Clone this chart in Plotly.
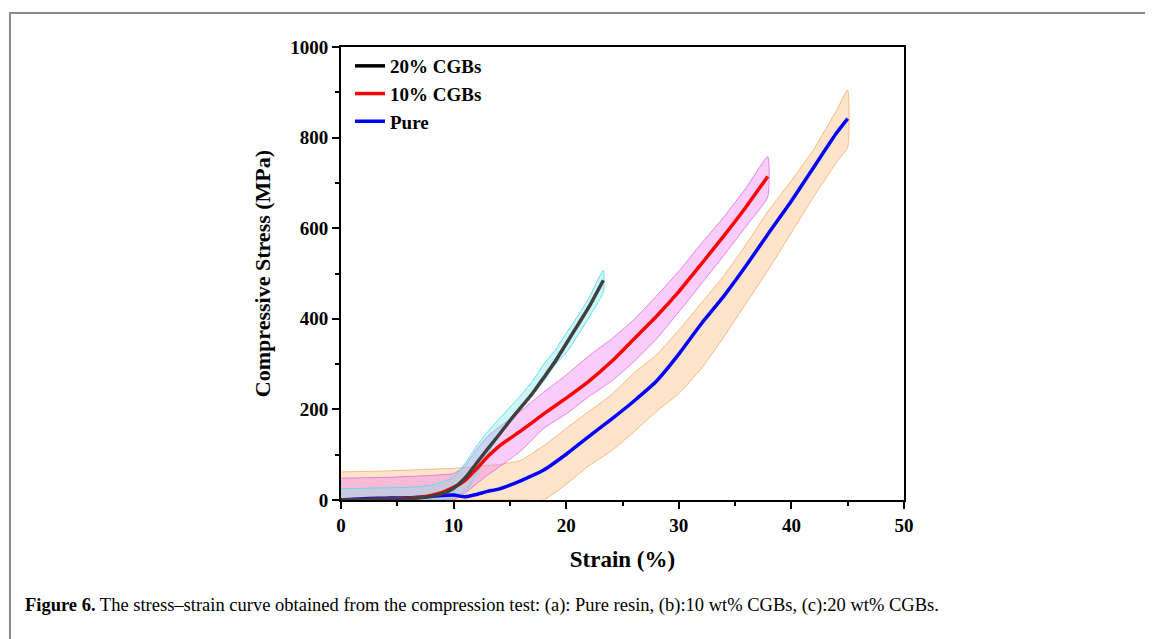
import plotly.graph_objects as go

# Pure resin
pure_x = [0, 2, 4, 6, 8, 10, 11, 12, 13, 14, 16, 18, 20, 22, 24, 26, 28, 30, 32, 34, 36, 38, 40, 42, 44, 45]
pure_y = [0, 3, 4, 5, 8, 11, 7, 12, 19, 24, 43, 66, 101, 140, 178, 218, 262, 322, 389, 450, 518, 590, 660, 735, 810, 842]
pure_hi = [62, 63, 64, 66, 68, 70, 72, 74, 76, 78, 88, 120, 158, 195, 232, 280, 320, 375, 435, 495, 565, 640, 705, 775, 860, 905]
pure_lo = [0, 0, 0, 0, 0, 0, 0, 0, 0, 0, 0, 0, 35, 75, 108, 150, 195, 235, 290, 360, 435, 510, 590, 670, 745, 779]

# 10% CGBs
c10_x = [0, 2, 4, 6, 7, 8, 9, 10, 11, 12, 13, 14, 16, 18, 20, 22, 24, 26, 28, 30, 32, 34, 36, 37.9]
c10_y = [0, 1, 2, 4, 6, 10, 17, 28, 43, 68, 95, 118, 153, 190, 225, 262, 305, 355, 405, 460, 521, 583, 648, 714]
c10_hi = [48, 49, 50, 52, 53, 54, 56, 58, 75, 110, 140, 160, 197, 238, 276, 318, 355, 398, 450, 505, 566, 625, 690, 758]
c10_lo = [0, 0, 0, 0, 0, 0, 0, 0, 15, 35, 55, 72, 109, 158, 190, 228, 262, 305, 355, 415, 477, 540, 605, 669]

# 20% CGBs
c20_x = [0, 2, 4, 6, 7, 8, 9, 10, 11, 12, 13, 14, 15, 16, 17, 18, 19, 20, 21, 22, 23.3]
c20_y = [0, 1, 2, 3, 5, 8, 14, 26, 48, 80, 112, 143, 175, 205, 235, 270, 305, 345, 385, 425, 485]
c20_hi = [25, 26, 27, 28, 30, 32, 40, 50, 80, 118, 150, 178, 205, 232, 262, 300, 330, 368, 405, 445, 507]
c20_lo = [0, 0, 0, 0, 0, 0, 2, 5, 20, 55, 100, 140, 172, 205, 232, 262, 298, 325, 362, 402, 459]

serif = "Liberation Serif, Times New Roman, serif"

fig = go.Figure()


def add_band(x, lo, hi, fill, edge):
    fig.add_trace(go.Scatter(
        x=x + x[::-1], y=lo + hi[::-1], fill="toself", fillcolor=fill,
        line=dict(color=edge, width=1, shape="spline", smoothing=0.5), mode="lines",
        showlegend=False, hoverinfo="skip"))


add_band(pure_x, pure_lo, pure_hi, "rgba(252,196,140,0.45)", "rgba(240,165,95,0.7)")
add_band(c10_x, c10_lo, c10_hi, "rgba(240,110,240,0.35)", "rgba(215,95,215,0.7)")
add_band(c20_x, c20_lo, c20_hi, "rgba(110,230,235,0.35)", "rgba(80,220,230,0.85)")

for xs, ys, col in [(pure_x, pure_y, "#0000ff"), (c10_x, c10_y, "#ff0000"), (c20_x, c20_y, "#404040")]:
    fig.add_trace(go.Scatter(x=xs, y=ys, mode="lines", showlegend=False,
                             line=dict(color=col, width=3.5, shape="spline", smoothing=0.5)))

# legend entries
for name, col in [("20% CGBs", "#000000"), ("10% CGBs", "#ff0000"), ("Pure", "#0000ff")]:
    fig.add_trace(go.Scatter(x=[None], y=[None], mode="lines", name=name,
                             line=dict(color=col, width=3.5)))

axis_common = dict(
    showline=True, linecolor="black", linewidth=2, mirror=True,
    ticks="outside", ticklen=7, tickwidth=2, tickcolor="black",
    showgrid=False, zeroline=False,
    tickfont=dict(family=serif, size=19, color="black", weight="bold"),
)

fig.update_xaxes(range=[0, 50], dtick=10,
                 minor=dict(dtick=5, ticks="outside", ticklen=4, tickwidth=2, tickcolor="black"),
                 title=dict(text="Strain (%)", font=dict(family=serif, size=23, color="black", weight="bold"),
                            standoff=16),
                 **axis_common)
fig.update_yaxes(range=[0, 1000], dtick=200,
                 minor=dict(dtick=100, ticks="outside", ticklen=4, tickwidth=2, tickcolor="black"),
                 title=dict(text="Compressive Stress (MPa)",
                            font=dict(family=serif, size=22, color="black", weight="bold"), standoff=14),
                 **axis_common)

fig.update_layout(
    width=1153, height=639,
    margin=dict(l=333, r=257, t=39, b=147),
    paper_bgcolor="white", plot_bgcolor="white",
    legend=dict(x=0.016, y=1.0, xanchor="left", yanchor="top",
                bgcolor="rgba(0,0,0,0)", tracegroupgap=0, itemwidth=30,
                font=dict(family=serif, size=19, color="black", weight="bold")),
)

# page frame
fig.add_shape(type="rect", xref="paper", yref="paper",
              x0=-0.588, x1=1.46, y0=-0.33, y1=1.075,
              line=dict(color="#8a8a8a", width=2), fillcolor="rgba(0,0,0,0)", layer="below")

fig.add_annotation(
    xref="paper", yref="paper", x=-0.565, y=-0.232, xanchor="left", yanchor="middle",
    showarrow=False, align="left",
    text="<b>Figure 6.</b> The stress–strain curve obtained from the compression test: (a): Pure resin, "
         "(b):10 wt% CGBs, (c):20 wt% CGBs.",
    font=dict(family=serif, size=18.5, color="black"),
)

fig.write_html("out.html")
